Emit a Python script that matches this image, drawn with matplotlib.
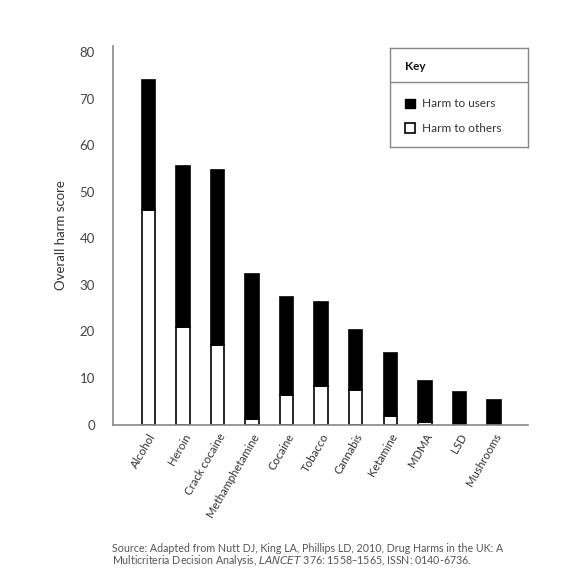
import matplotlib
matplotlib.use("Agg")
import matplotlib.pyplot as plt
from matplotlib.patches import Rectangle
import numpy as np

plt.rcParams['font.family'] = ['Lato', 'DejaVu Sans']

# drugs and harm scores
drugs = ['Alcohol', 'Heroin', 'Crack cocaine', 'Methamphetamine', 'Cocaine',
         'Tobacco', 'Cannabis', 'Ketamine', 'MDMA', 'LSD', 'Mushrooms']
harm_others = [46, 21, 17, 1.2, 6.3, 8.3, 7.5, 1.9, 0.6, 0, 0]
harm_users = [28, 34.5, 37.6, 31.2, 21.1, 18.1, 12.8, 13.4, 8.8, 7.0, 5.2]
yticks = [0, 10, 20, 30, 40, 50, 60, 70, 80]

fig = plt.figure(figsize=(5.86, 5.77), dpi=100)
ax = fig.add_axes([113/586, 1 - 424.5/577, 415/586, 378.5/577])

x = np.arange(len(drugs))
w = 0.39
ax.bar(x, harm_others, w, color='white', edgecolor='black', linewidth=1.2)
ax.bar(x, harm_users, w, bottom=harm_others, color='black', edgecolor='black', linewidth=1.2)

ax.set_xlim(-1.03, 10.99)
ax.set_ylim(0, 81.3)
ax.set_yticks(yticks)
ax.set_xticks(x)
ax.set_xticklabels(drugs, rotation=60, ha='right', rotation_mode='anchor',
                   fontsize=8.2, color='#333333')
ax.tick_params(axis='both', length=0)
ax.tick_params(axis='y', labelsize=9.5, labelcolor='#444444', pad=13)
ax.tick_params(axis='x', pad=5)
ax.set_ylabel('Overall harm score', fontsize=9.5, color='#333333', labelpad=9)

for s in ['top', 'right']:
    ax.spines[s].set_visible(False)
for s in ['left', 'bottom']:
    ax.spines[s].set_color('#888888')
    ax.spines[s].set_linewidth(1.2)

# key box
kax = fig.add_axes([390/586, 1 - 146.7/577, 138/586, 98.4/577])
kax.set_xlim(0, 138)
kax.set_ylim(98.4, 0)
kax.set_xticks([])
kax.set_yticks([])
for s in kax.spines.values():
    s.set_color('#888888')
    s.set_linewidth(1)
kax.text(15, 18.5, 'Key', fontsize=8.5, fontweight='bold', va='center', color='#111111')
kax.axhline(34, color='#888888', linewidth=1)
kax.add_patch(Rectangle((15, 50.5), 9.5, 9.5, facecolor='black', edgecolor='black', linewidth=1))
kax.add_patch(Rectangle((15, 75), 9.5, 9.5, facecolor='white', edgecolor='black', linewidth=1.2))
kax.text(32, 55.5, 'Harm to users', fontsize=8.5, va='center', color='#333333')
kax.text(32, 80, 'Harm to others', fontsize=8.5, va='center', color='#333333')

fig.text(112/586, 1 - 549/577, 'Source: Adapted from Nutt DJ, King LA, Phillips LD, 2010, Drug Harms in the UK: A',
         fontsize=7.7, color='#555555', va='center')
fig.text(112/586, 1 - 561/577, 'Multicriteria Decision Analysis, $\\it{LANCET}$ 376: 1558\u20131565, ISSN: 0140-6736.',
         fontsize=7.7, color='#555555', va='center')

fig.savefig('out.png', dpi=100)
